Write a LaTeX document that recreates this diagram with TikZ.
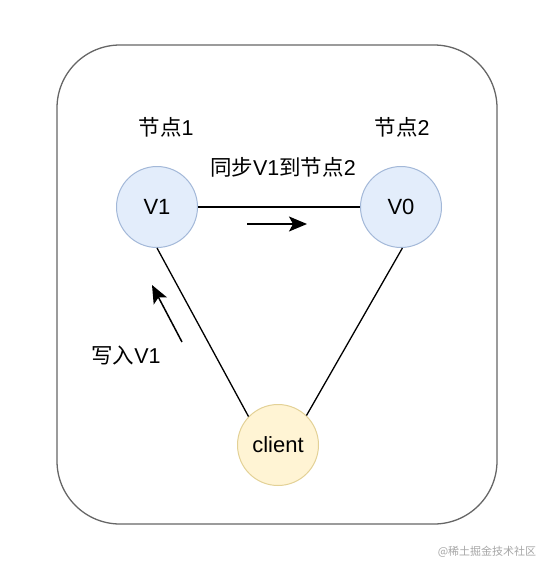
\documentclass[tikz,border=0pt]{standalone}
\usepackage{fontspec}
\setmainfont{Liberation Sans}
\newfontfamily\cjk{Noto Sans CJK SC}
\usetikzlibrary{positioning,arrows.meta}
\definecolor{nodeBlueFill}{HTML}{E3EDFB}
\definecolor{nodeBlueLine}{HTML}{A3B8D8}
\definecolor{clientFill}{HTML}{FFF4D4}
\definecolor{clientLine}{HTML}{E3D196}
\definecolor{frameLine}{HTML}{666666}
\tikzset{
  db node/.style={
    circle, draw=nodeBlueLine, fill=nodeBlueFill,
    line width=1pt, minimum size=81pt, inner sep=0pt,
    font=\fontsize{22}{24}\selectfont,
  },
  client node/.style={
    db node, draw=clientLine, fill=clientFill,
  },
  label text/.style={
    font=\fontsize{21.5}{24}\selectfont, inner sep=0pt,
  },
  link edge/.style={
    line width=1.3pt, color=black,
  },
  flow arrow/.style={
    line width=1.5pt, -{Stealth[length=18pt,width=15pt,inset=4pt]},
  },
}

\begin{document}
\begin{tikzpicture}[x=1pt,y=-1pt]

\useasboundingbox (0,0) rectangle (554,576);

% outer frame
\draw[frameLine, line width=1.3pt, rounded corners=63pt]
  (57,45) rectangle (497,524);

% Nodes
\node[db node] (v1) at (157,207) {V1};
\node[db node] (v0) at (401,207) {V0};
\node[client node] (client) at (278,445) {client};

% Links
\draw[link edge] (v1) -- (v0);
\draw[link edge] (v1.-90) -- (client.136);
\draw[link edge] (v0.-88) -- (client.46);

% Labels
\node[label text] (lab1) at (166,127) {{\cjk 节点}1};
\node[label text] (lab2) at (402,127) {{\cjk 节点}2};
\node[label text] (sync) at (283,167) {{\cjk 同步}V1{\cjk 到节点}2};
\node[label text] (write) at (126,355) {{\cjk 写入}V1};

% Direction arrows
\coordinate (syncA) at (247,224);
\coordinate (syncB) at (307,224);
\draw[flow arrow] (syncA) -- (syncB);
\coordinate (writeA) at (182,342);
\coordinate (writeB) at (152,285);
\draw[flow arrow] (writeA) -- (writeB);

% watermark
\node[font=\fontsize{11}{13}\selectfont\cjk, text=black!35, inner sep=0pt]
  (mark) at (487,552) {@稀土掘金技术社区};

\end{tikzpicture}
\end{document}
